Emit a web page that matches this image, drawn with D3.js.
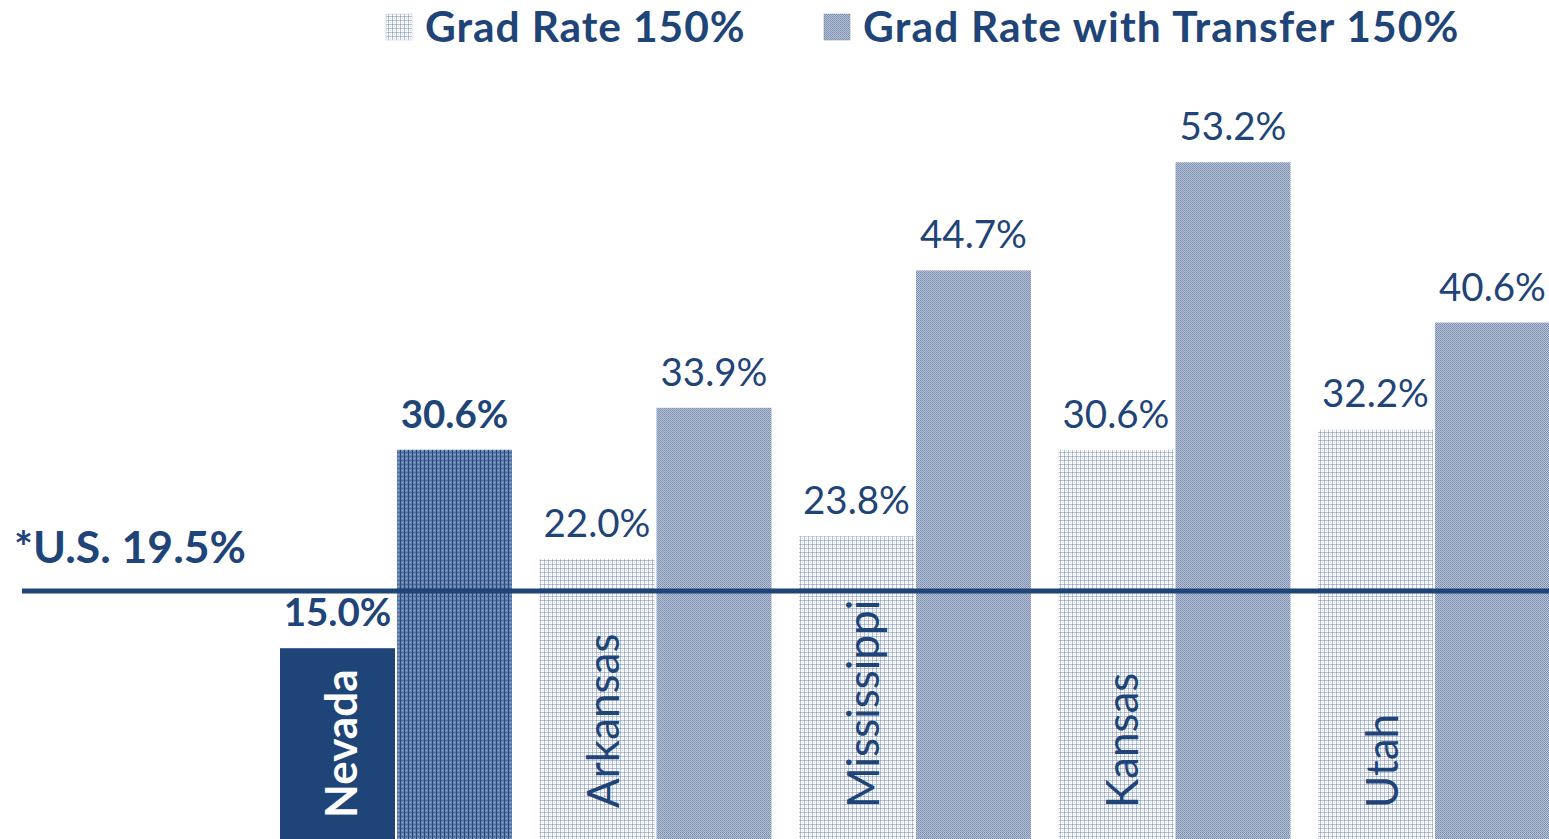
<!DOCTYPE html>
<html><head><meta charset="utf-8">
<script src="https://cdn.jsdelivr.net/npm/d3@7"></script>
<style>html,body{margin:0;padding:0;background:#fff;overflow:hidden}</style>
</head><body>
<svg id="c" width="1549" height="839"></svg>
<script>
const categories = ["Nevada","Arkansas","Mississippi","Kansas","Utah"];
const gradRate = [15.0, 22.0, 23.8, 30.6, 32.2];
const gradTransfer = [30.6, 33.9, 44.7, 53.2, 40.6];
const seriesNames = ["Grad Rate 150%","Grad Rate with Transfer 150%"];
const usRate = 19.5;
const usLabel = "*U.S. 19.5%";

const W = 1549, H = 839;
const navy = "#1f4478";
const FONT = "Lato, 'Open Sans', sans-serif";
const svg = d3.select("#c");
const defs = svg.append("defs");

function pat(id, size, draw){
  const p = defs.append("pattern").attr("id", id).attr("patternUnits","userSpaceOnUse")
    .attr("width", size).attr("height", size);
  draw(p);
}
pat("pLight", 4, p => {
  p.append("rect").attr("width",4).attr("height",4).attr("fill","#ffffff");
  p.append("rect").attr("x",0).attr("y",0).attr("width",1).attr("height",4).attr("fill","#b6c2d8");
  p.append("rect").attr("x",0).attr("y",0).attr("width",4).attr("height",1).attr("fill","#b6c2d8");
  p.append("rect").attr("x",0).attr("y",0).attr("width",1).attr("height",1).attr("fill","#8fa1c2");
  p.append("rect").attr("x",2).attr("y",2).attr("width",1).attr("height",1).attr("fill","#d8dfeb");
});
pat("pMed", 2, p => {
  p.append("rect").attr("width",2).attr("height",2).attr("fill","#b8c2d5");
  p.append("rect").attr("x",0).attr("y",0).attr("width",1).attr("height",1).attr("fill","#788cae");
  p.append("rect").attr("x",1).attr("y",1).attr("width",1).attr("height",1).attr("fill","#8598b9");
});
pat("pDark", 4, p => {
  p.append("rect").attr("width",4).attr("height",4).attr("fill","#6682b0");
  p.append("rect").attr("x",0).attr("y",0).attr("width",4).attr("height",1).attr("fill","#4d6c9e");
  p.append("rect").attr("x",0).attr("y",0).attr("width",1).attr("height",4).attr("fill","#234879");
  p.append("rect").attr("x",2).attr("y",2).attr("width",1).attr("height",1).attr("fill","#9aaed0");
});

const y = d3.scaleLinear().domain([0, 60]).range([H, H - 60*12.72]);
const x0 = d3.scaleBand().domain(categories).range([280, 1550]).paddingInner(0.106).paddingOuter(0);
const x1 = d3.scaleBand().domain([0,1]).range([0, x0.bandwidth()]).paddingInner(0.017);

const rows = categories.map((c,i)=>({c, i, vals:[gradRate[i], gradTransfer[i]]}));
const g = svg.append("g");
rows.forEach(r => {
  r.vals.forEach((v,s) => {
    let fill;
    if (r.i === 0) fill = s === 0 ? navy : "url(#pDark)";
    else fill = s === 0 ? "url(#pLight)" : "url(#pMed)";
    const bx = x0(r.c) + x1(s);
    g.append("rect").attr("x", bx).attr("y", y(v)).attr("width", x1.bandwidth())
      .attr("height", y(0) - y(v)).attr("fill", fill);
  });
});

// US line
svg.append("line").attr("x1", 22).attr("x2", W).attr("y1", y(usRate)).attr("y2", y(usRate))
  .attr("stroke", navy).attr("stroke-width", 5);
svg.append("text").attr("x", 14).attr("y", y(usRate) - 28).attr("fill", navy)
  .attr("font-family", FONT).attr("font-weight", 700).attr("font-size", 44.5).text(usLabel);

// value labels
rows.forEach(r => {
  r.vals.forEach((v,s) => {
    const cx = x0(r.c) + x1(s) + x1.bandwidth()/2;
    svg.append("text").attr("x", cx).attr("y", y(v) - 22).attr("text-anchor","middle")
      .attr("fill", navy).attr("font-family", FONT)
      .attr("font-weight", r.i === 0 ? 700 : 400).attr("font-size", 38.5)
      .text(v.toFixed(1) + "%");
  });
});

// category labels
rows.forEach(r => {
  const cx = x0(r.c) + x1(0) + x1.bandwidth()/2;
  const bold = r.i === 0;
  const yb = bold ? 818 : 808;
  svg.append("text").attr("transform", `translate(${cx + (bold ? 19 : 22)},${yb}) rotate(-90)`)
    .attr("fill", bold ? "#ffffff" : navy).attr("font-family", FONT)
    .attr("font-weight", bold ? 700 : 400).attr("font-size", 44)
    .text(r.c);
});

// legend
const legX = [386, 824];
const legFill = ["url(#pLight)", "url(#pMed)"];
seriesNames.forEach((n,i) => {
  svg.append("rect").attr("x", legX[i]).attr("y", 14).attr("width", 26).attr("height", 26)
    .attr("fill", legFill[i]).attr("stroke", i===0 ? "#b6c2d8" : "#788cae").attr("stroke-width", 0.5);
  svg.append("text").attr("x", legX[i] + 39).attr("y", 42).attr("fill", navy)
    .attr("font-family", FONT).attr("font-weight", 700).attr("font-size", 42.5)
    .attr("letter-spacing", i === 0 ? 0.9 : 1.15).text(n);
});
</script>
</body></html>
